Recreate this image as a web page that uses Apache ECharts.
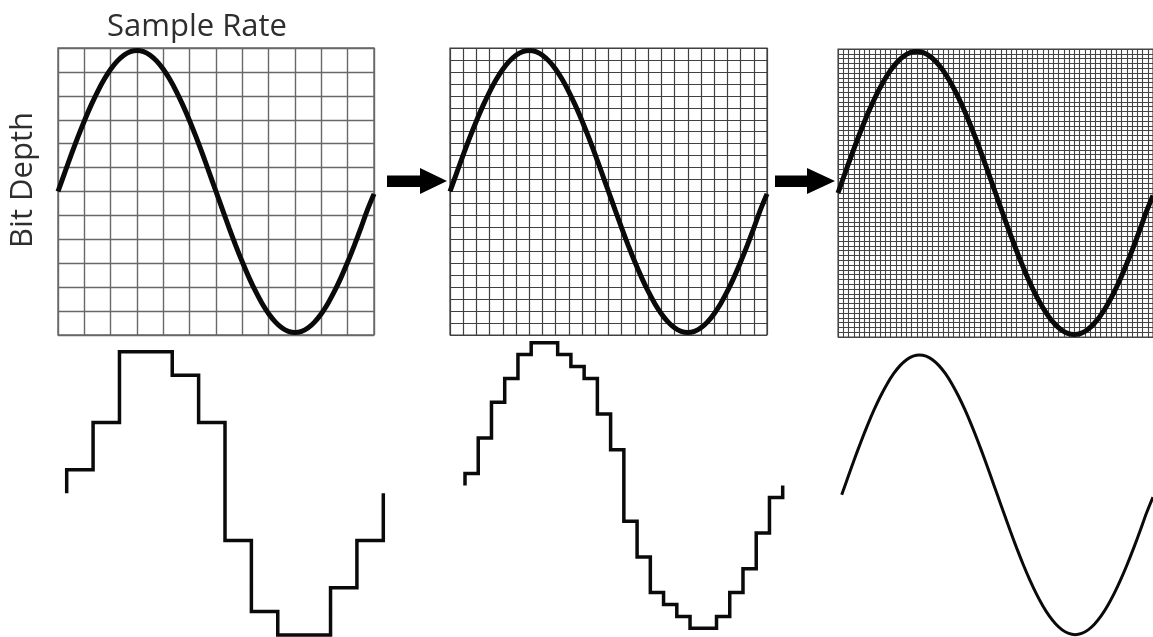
<!DOCTYPE html>
<html>
<head>
<meta charset="utf-8">
<title>Sample Rate / Bit Depth</title>
<script src="https://cdn.jsdelivr.net/npm/echarts@6/dist/echarts.min.js"></script>
<style>
  html, body { margin: 0; padding: 0; background: #fff; }
  #chart { width: 1153px; height: 637px; }
</style>
</head>
<body>
<div id="chart"></div>
<script>
// one period of the analogue wave (x 0..120, y 0..120)
const waveX = [0, 2.5, 5, 7.5, 10, 12.5, 15, 17.5, 20, 22.5, 25, 27.5, 30, 32.5, 35, 37.5, 40, 42.5, 45, 47.5, 50, 52.5, 55, 57.5,
  60, 62.5, 65, 67.5, 70, 72.5, 75, 77.5, 80, 82.5, 85, 87.5, 90, 92.5, 95, 97.5, 100, 102.5, 105, 107.5, 110, 112.5, 115, 117.5, 120];
const waveY = [60, 67.7, 75.3, 82.6, 89.5, 95.9, 101.7, 106.8, 111.1, 114.5, 117, 118.5, 119, 118.5, 117, 114.5, 111.1, 106.8, 101.7, 95.9, 89.5, 82.6, 75.3, 67.7,
  60, 52.3, 44.7, 37.4, 30.5, 24.1, 18.3, 13.2, 8.9, 5.5, 3, 1.5, 1, 1.5, 3, 5.5, 8.9, 13.2, 18.3, 24.1, 30.5, 37.4, 44.7, 52.3, 59];

// grid divisions of the three top panels
const divisions = [12, 24, 60];

// quantised waves: level held in each sample column
const coarseStart = 6;
const coarseHeld = [7, 9, 12, 12, 11, 9, 4, 1, 0, 0, 2, 4];
const coarseEnd = 6;

const fineStart = 12;
const fineHeld = [13, 16, 19, 21, 23, 24, 24, 23, 22, 21, 18, 15, 9, 6, 3, 2, 1, 0, 0, 1, 3, 5, 8, 11];
const fineEnd = 12;

const titleX = 'Sample Rate';
const titleY = 'Bit Depth';

const wave = waveX.map((x, i) => [x, waveY[i]]);
const steps = (start, held, end) => [[0, start], ...held.map((v, i) => [i, v]), [held.length, end]];

const chart = echarts.init(document.getElementById('chart'), null, { renderer: 'canvas' });

const topGrids = [
  { left: 58, top: 48, width: 316, height: 287 },
  { left: 450, top: 48, width: 317, height: 287 },
  { left: 838, top: 49, width: 317, height: 288 },
];
const bottomGrids = [
  { left: 66.7, top: 351.7, width: 316.6, height: 283.3 },
  { left: 465, top: 342.7, width: 317.7, height: 285.6 },
  { left: 841.7, top: 352.6, width: 317, height: 284.8 },
];

const gridLine = ['#686868', '#404040', '#444'];
const gridWidth = [1.4, 1.2, 1.1];

const hidden = {
  axisLine: { show: false },
  axisTick: { show: false },
  axisLabel: { show: false },
};

const grids = [];
const xAxes = [];
const yAxes = [];
const series = [];

topGrids.forEach((g, i) => {
  grids.push({ ...g, show: true, borderColor: gridLine[i], borderWidth: gridWidth[i], containLabel: false });
  const axis = (idx) => ({
    type: 'value', gridIndex: idx, min: 0, max: 120, interval: 120 / divisions[i],
    ...hidden,
    splitLine: { show: true, lineStyle: { color: gridLine[i], width: gridWidth[i] } },
  });
  xAxes.push(axis(i));
  yAxes.push(axis(i));
  series.push({
    type: 'line', xAxisIndex: i, yAxisIndex: i, data: wave,
    smooth: 0.3, symbol: 'none', clip: false, z: 5,
    lineStyle: { color: '#0a0a0a', width: 5 },
  });
});

const bottomMax = [12, 24, 120];
bottomGrids.forEach((g, i) => {
  const idx = i + 3;
  grids.push({ ...g, containLabel: false });
  xAxes.push({ type: 'value', gridIndex: idx, min: 0, max: bottomMax[i], ...hidden, splitLine: { show: false } });
  yAxes.push({ type: 'value', gridIndex: idx, min: 0, max: bottomMax[i], ...hidden, splitLine: { show: false } });
});

series.push({
  type: 'line', xAxisIndex: 3, yAxisIndex: 3, step: 'end', symbol: 'none', clip: false,
  data: steps(coarseStart, coarseHeld, coarseEnd),
  lineStyle: { color: '#0a0a0a', width: 3.5, join: 'miter' },
});
series.push({
  type: 'line', xAxisIndex: 4, yAxisIndex: 4, step: 'end', symbol: 'none', clip: false,
  data: steps(fineStart, fineHeld, fineEnd),
  lineStyle: { color: '#0a0a0a', width: 3.5, join: 'miter' },
});
series.push({
  type: 'line', xAxisIndex: 5, yAxisIndex: 5, data: wave,
  smooth: 0.3, symbol: 'none', clip: false,
  lineStyle: { color: '#0a0a0a', width: 3 },
});

const arrow = (x0, x1, tip, cy) => ({
  type: 'polygon',
  shape: { points: [[x0, cy - 5.5], [x1, cy - 5.5], [x1, cy - 13], [tip, cy], [x1, cy + 13], [x1, cy + 6], [x0, cy + 6]] },
  style: { fill: '#000' },
});

chart.setOption({
  animation: false,
  backgroundColor: '#fff',
  grid: grids,
  xAxis: xAxes,
  yAxis: yAxes,
  series: series,
  graphic: [
    {
      type: 'text', x: 197, y: 27,
      style: { text: titleX, font: '31px "Open Sans"', fill: '#2e2e2e', textAlign: 'center', textVerticalAlign: 'middle' },
    },
    {
      type: 'text', x: 23, y: 180, rotation: Math.PI / 2,
      style: { text: titleY, font: '31px "Open Sans"', fill: '#2e2e2e', textAlign: 'center', textVerticalAlign: 'middle' },
    },
    arrow(387, 420, 447, 181),
    arrow(775, 807, 835, 181),
  ],
});
</script>
</body>
</html>
